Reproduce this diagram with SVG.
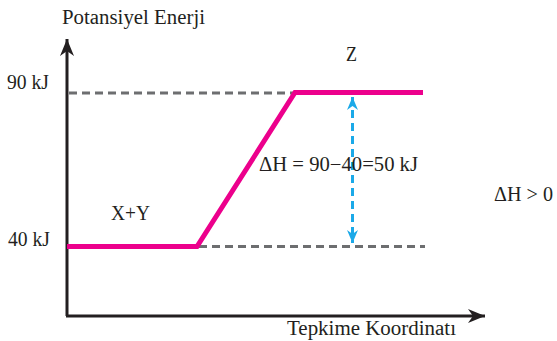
<svg xmlns="http://www.w3.org/2000/svg" width="557" height="341" viewBox="0 0 557 341">
<style>
text{font-family:"Liberation Serif","DejaVu Serif",serif;font-size:20px;fill:#231f20}
.ax{stroke:#231f20;stroke-width:3;fill:none}
.dash{stroke:#6d6e70;stroke-width:3;stroke-dasharray:8 5;fill:none}
.pink{stroke:#ec008c;stroke-width:5;fill:none;stroke-linejoin:miter}
.blue{stroke:#1ba9e8;stroke-width:3;stroke-dasharray:8 5;fill:none}
</style>
<defs>
<marker id="ah" markerUnits="userSpaceOnUse" markerWidth="20" markerHeight="20" viewBox="-18 -8 20 16" refX="0" refY="0" orient="auto">
<path d="M0,0 L-17,-7 L-12,0 L-17,7 Z" fill="#231f20"/>
</marker>
<marker id="bh" markerUnits="userSpaceOnUse" markerWidth="16" markerHeight="16" viewBox="-14 -7 16 14" refX="0" refY="0" orient="auto-start-reverse">
<path d="M0,0 L-13,-5.5 L-9,0 L-13,5.5 Z" fill="#1ba9e8"/>
</marker>
</defs>
<g id="connectors">
<path class="ax" d="M67,316 L67,39" marker-end="url(#ah)"/>
<path class="ax" d="M66,316 L485,316" marker-end="url(#ah)"/>
<path class="dash" d="M69,93 L294,93"/>
<path class="dash" d="M199,246.5 L425,246.5"/>
<path class="pink" d="M67,246.5 L197,246.5 L295,92.5 L423,92.5"/>
<path class="blue" d="M352.5,97 L352.5,243" marker-start="url(#bh)" marker-end="url(#bh)"/>
</g>
<g id="labels">
<text x="62" y="24" textLength="143" lengthAdjust="spacingAndGlyphs">Potansiyel Enerji</text>
<text x="7" y="89" textLength="42" lengthAdjust="spacingAndGlyphs">90 kJ</text>
<text x="8" y="246" textLength="42" lengthAdjust="spacingAndGlyphs">40 kJ</text>
<text x="111" y="220" textLength="39" lengthAdjust="spacingAndGlyphs">X+Y</text>
<text x="346" y="61" textLength="11" lengthAdjust="spacingAndGlyphs">Z</text>
<text x="259" y="171" textLength="159" lengthAdjust="spacingAndGlyphs">ΔH = 90−40=50 kJ</text>
<text x="494" y="201" textLength="59" lengthAdjust="spacingAndGlyphs">ΔH &gt; 0</text>
<text x="287" y="335" textLength="169" lengthAdjust="spacingAndGlyphs">Tepkime Koordinatı</text>
</g>
</svg>
